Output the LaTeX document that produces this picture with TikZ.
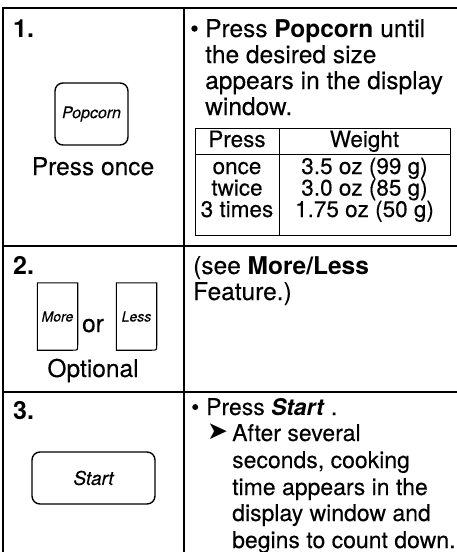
\documentclass[tikz,border=0pt]{standalone}
\usepackage{fontspec}
\setmainfont{TeX Gyre Heros}[UprightFeatures={FakeBold=0.15}, ItalicFeatures={FakeBold=0.15}]
\newfontfamily\symfont{DejaVu Sans}
\usetikzlibrary{positioning}
\tikzset{
  txt/.style = {anchor=base west, inner sep=0pt,
    font=\fontsize{24.5}{26}\selectfont},% body text
  ctxt/.style = {txt, anchor=base},% centred text
  tabtxt/.style = {ctxt, font=\fontsize{22.5}{22}\selectfont},% table text
  smalltxt/.style = {txt, font=\fontsize{23}{26}\selectfont},% step 3 text
  num/.style = {txt, font=\fontsize{25}{26}\selectfont\bfseries},% step number
  keybox/.style = {draw, rounded corners=8pt, line width=1.4pt, inner sep=0pt,
    font=\fontsize{16}{16}\selectfont\itshape},% key on the panel
  keyflat/.style = {inner sep=0pt, font=\fontsize{14}{14}\selectfont\itshape},
  frame/.style = {line width=1.3pt},
  grid/.style = {line width=1pt},
}
\begin{document}
\begin{tikzpicture}[x=1pt,y=-1pt]
  \useasboundingbox (0,0) rectangle (457,552);

  % frame of the table
  \draw[frame] (457,8) -- (3,8) -- (3,552);
  \draw[frame] (184,8) -- (184,552);
  \draw[frame] (3,246) -- (457,246);
  \draw[frame] (3,392) -- (457,392);

  % step 1
  \node[num] (n1) at (13,37) {1.};
  \node[keybox, minimum width=73pt, minimum height=62pt] (popcorn) at (91.5,114) {Popcorn};
  \node[ctxt] (once) at (93,175) {Press once};

  \node[txt] (b1) at (190,37) {\textbullet};
  \node[txt] (t1a) at (205,37) {Press \textbf{Popcorn} until};
  \node[txt] (t1b) at (205,63) {the desired size};
  \node[txt] (t1c) at (205,89) {appears in the display};
  \node[txt] (t1d) at (205,115) {window.};

  % weight table
  \draw[grid] (195,128) rectangle (450,235);
  \draw[grid] (195,154) -- (450,154);
  \draw[grid] (279,128) -- (279,235);
  \node[tabtxt] (hpress) at (237,147) {Press};
  \node[tabtxt] (hweight) at (364.5,147) {Weight};
  \node[tabtxt] (p1) at (237,174) {once};
  \node[tabtxt] (p2) at (237,195.5) {twice};
  \node[tabtxt] (p3) at (237,217) {3 times};
  \node[tabtxt] (w1) at (364.5,174) {3.5 oz (99 g)};
  \node[tabtxt] (w2) at (364.5,195.5) {3.0 oz (85 g)};
  \node[tabtxt] (w3) at (364.5,217) {1.75 oz (50 g)};

  % step 2
  \node[num] (n2) at (13,274) {2.};
  \node[keyflat, minimum width=40pt, minimum height=67pt] (more) at (57.5,316.5) {More};
  \node[keyflat, minimum width=40pt, minimum height=67pt] (less) at (136.5,316.5) {Less};
  \draw[line width=1.1pt] (more.south west) -- (more.north west) -- (more.north east)
    -- ([yshift=5pt]more.south east) .. controls (more.south east) .. ([xshift=-5pt]more.south east)
    -- cycle;
  \draw[line width=1.1pt] (less.south west) -- (less.north west) -- (less.north east)
    -- ([yshift=5pt]less.south east) .. controls (less.south east) .. ([xshift=-5pt]less.south east)
    -- cycle;
  \node[ctxt] (or) at (93,332) {or};
  \node[ctxt] (optional) at (93,377) {Optional};

  \node[txt] (t2a) at (193,274) {(see \textbf{More/Less}};
  \node[txt] (t2b) at (193,300) {Feature.)};

  % step 3
  \node[num] (n3) at (13,419) {3.};
  \node[keybox, minimum width=123pt, minimum height=52pt, font=\fontsize{19}{19}\selectfont\itshape] (start) at (93.5,478) {Start};

  \node[smalltxt] (b3) at (191,415) {\textbullet};
  \node[smalltxt] (t3a) at (206,415) {Press \textbf{\textit{Start}} .};
  \node[txt, font=\fontsize{25}{25}\symfont] (arr) at (207,439) {➤};
  \node[smalltxt] (t3b) at (232,441) {After several};
  \node[smalltxt] (t3c) at (232,468) {seconds, cooking};
  \node[smalltxt] (t3d) at (232,495) {time appears in the};
  \node[smalltxt] (t3e) at (232,521) {display window and};
  \node[smalltxt] (t3f) at (232,548) {begins to count down.};
\end{tikzpicture}
\end{document}
